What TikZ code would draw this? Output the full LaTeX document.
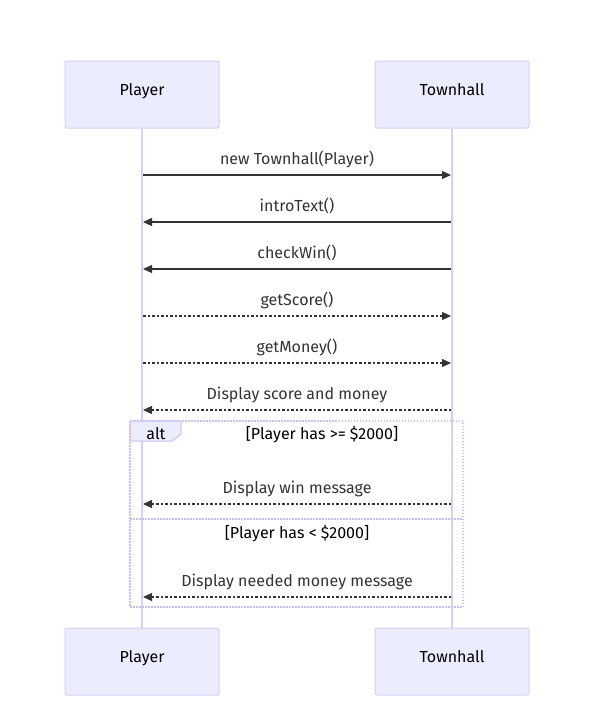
\documentclass[tikz,border=0pt]{standalone}
\usepackage{fontspec}
\setmainfont{Fira Sans}
\usetikzlibrary{arrows.meta}
\definecolor{boxfill}{HTML}{ECECFF}
\definecolor{boxline}{HTML}{D6D0F4}
\definecolor{frameline}{HTML}{C9BFEF}
\definecolor{ink}{HTML}{333333}
\begin{document}
\begin{tikzpicture}[x=1pt,y=-1pt,
  actor/.style={draw=boxline,fill=boxfill,rounded corners=2pt,line width=1pt,minimum width=154pt,minimum height=67pt,text=black,font=\fontsize{16}{18}\selectfont,text height=11pt,text depth=9pt},
  lifeline/.style={draw=boxline,line width=1.5pt},
  msg/.style={draw=ink,line width=1.1pt,-{Triangle[length=9pt,width=8pt]}},
  dmsg/.style={msg,dash pattern=on 2.5pt off 2pt},
  lbl/.style={text=ink,font=\fontsize{16}{18}\selectfont,inner sep=0pt,anchor=base},
  frame/.style={draw=frameline,line width=1.2pt,dash pattern=on 1.5pt off 1.5pt}
]
\useasboundingbox (0,0) rectangle (609,721);
\node[actor] (pt) at (142,94.5) {Player};
\node[actor] (tt) at (452,94.5) {Townhall};
\node[actor] (pb) at (142,661.5) {Player};
\node[actor] (tb) at (452,661.5) {Townhall};
\draw[lifeline] (pt.south) -- (pb.north);
\draw[lifeline] (tt.south) -- (tb.north);
% message anchors
\foreach \n/\y in {1/175,2/222,3/269,4/316,5/363,6/410,7/504,8/597}{
  \coordinate (p\n) at (143,\y);
  \coordinate (t\n) at (451,\y);
}
\draw[msg] (p1) -- (t1);
\node[lbl] (l1) at (297,164) {new Townhall(Player)};
\draw[msg] (t2) -- (p2);
\node[lbl] (l2) at (297,211) {introText()};
\draw[msg] (t3) -- (p3);
\node[lbl] (l3) at (297,258) {checkWin()};
\draw[dmsg] (p4) -- (t4);
\node[lbl] (l4) at (297,305) {getScore()};
\draw[dmsg] (p5) -- (t5);
\node[lbl] (l5) at (297,352) {getMoney()};
\draw[dmsg] (t6) -- (p6);
\node[lbl] (l6) at (297,399) {Display score and money};
% alt frame
\draw[frame] (130,421) rectangle (463,607);
\coordinate (s1) at (130,519);
\coordinate (s2) at (463,519);
\draw[frame] (s1) -- (s2);
\draw[draw=frameline,fill=boxfill,line width=1pt] (130,421) -- (181,421) -- (181,434) -- (172,441) -- (130,441) -- cycle;
\node[lbl,text=black] (alt) at (156,439) {alt};
\node[lbl,text=black] (c1) at (322,439) {[Player has >= \$2000]};
\draw[dmsg] (t7) -- (p7);
\node[lbl] (l7) at (297,493) {Display win message};
\node[lbl,text=black] (c2) at (297,538) {[Player has < \$2000]};
\draw[dmsg] (t8) -- (p8);
\node[lbl] (l8) at (297,586) {Display needed money message};
\end{tikzpicture}
\end{document}
